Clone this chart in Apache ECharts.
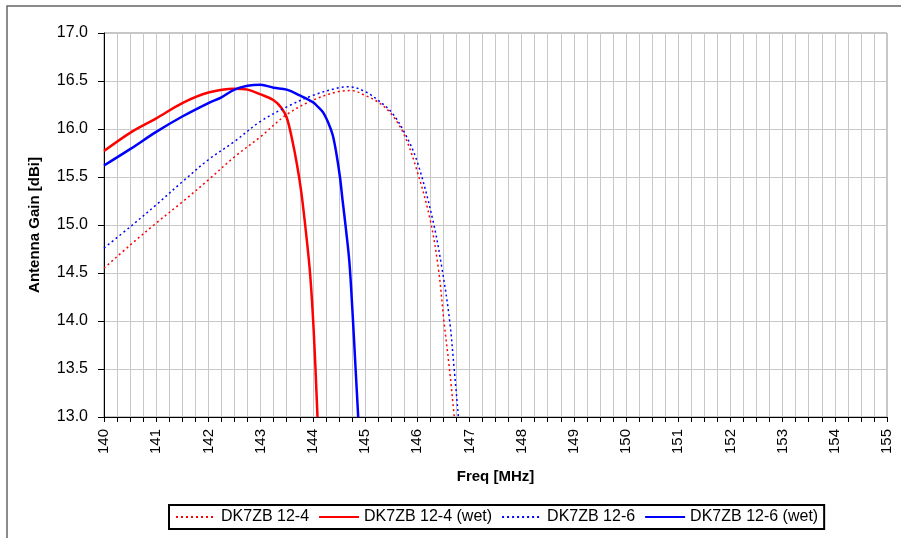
<!DOCTYPE html>
<html>
<head>
<meta charset="utf-8">
<script src="https://cdn.jsdelivr.net/npm/echarts@6/dist/echarts.min.js"></script>
<style>
  html, body { margin: 0; padding: 0; background: #ffffff; }
  #chart { width: 901px; height: 538px; }
</style>
</head>
<body>
<div id="chart"></div>
<script>
// Gain curves of the DK7ZB 2 m Yagis, dry and wet (frequency in MHz, gain in dBi)
const dry124Freq = [140.0, 140.5, 141.0, 141.5, 142.0, 142.5, 143.0, 143.5, 144.0, 144.5, 144.75, 145.0, 145.25, 145.5, 145.75, 146.0, 146.25, 146.41, 146.51, 146.62, 146.71];
const dry124Gain = [14.55, 14.79, 15.02, 15.24, 15.47, 15.71, 15.92, 16.15, 16.30, 16.39, 16.40, 16.35, 16.28, 16.16, 15.94, 15.56, 15.05, 14.53, 14.01, 13.49, 13.0];

const wet124Freq = [140.0, 140.5, 141.0, 141.5, 142.0, 142.5, 142.75, 143.0, 143.25, 143.4, 143.5, 143.6, 143.7, 143.78, 143.87, 143.95, 144.02, 144.09];
const wet124Gain = [15.77, 15.96, 16.11, 16.27, 16.38, 16.42, 16.41, 16.36, 16.30, 16.22, 16.12, 15.90, 15.62, 15.34, 14.92, 14.48, 13.87, 13.0];

const dry126Freq = [140.0, 140.5, 141.0, 141.5, 142.0, 142.5, 143.0, 143.5, 144.0, 144.5, 144.7, 145.0, 145.25, 145.5, 145.75, 146.0, 146.3, 146.48, 146.62, 146.71, 146.79];
const dry126Gain = [14.76, 14.98, 15.21, 15.45, 15.68, 15.87, 16.08, 16.23, 16.35, 16.43, 16.44, 16.39, 16.30, 16.18, 15.97, 15.66, 15.05, 14.53, 14.01, 13.49, 13.0];

const wet126Freq = [140.0, 140.5, 141.0, 141.5, 142.0, 142.25, 142.5, 142.75, 143.0, 143.25, 143.5, 143.75, 144.0, 144.1, 144.2, 144.3, 144.38, 144.45, 144.52, 144.57, 144.63, 144.7, 144.76, 144.82, 144.87];
const wet126Gain = [15.62, 15.79, 15.97, 16.13, 16.27, 16.33, 16.41, 16.45, 16.46, 16.43, 16.41, 16.35, 16.28, 16.23, 16.17, 16.06, 15.94, 15.75, 15.50, 15.26, 14.98, 14.62, 14.10, 13.50, 13.0];

const seriesNames = ['DK7ZB 12-4', 'DK7ZB 12-4 (wet)', 'DK7ZB 12-6', 'DK7ZB 12-6 (wet)'];

const pairs = (xs, ys) => xs.map((x, i) => [x, ys[i]]);

const dotted = [2, 3];

function curve(name, data, color, wet) {
  return {
    name: name,
    type: 'line',
    data: data,
    symbol: 'none',
    smooth: 0.35,
    lineStyle: wet
      ? { color: color, width: 2.5, type: 'solid' }
      : { color: color, width: 1.5, type: dotted },
    itemStyle: { color: color },
    emphasis: { disabled: true }
  };
}

const chart = echarts.init(document.getElementById('chart'), null, { renderer: 'canvas' });

chart.setOption({
  backgroundColor: '#ffffff',
  animation: false,
  textStyle: { fontFamily: 'Liberation Sans, Arial, sans-serif', color: '#000' },
  graphic: [
    {
      type: 'rect',
      shape: { x: 7, y: 6, width: 1000, height: 1000 },
      style: { fill: 'none', stroke: '#666666', lineWidth: 1.5 },
      silent: true
    }
  ],
  grid: {
    left: 104, top: 33, right: 14, bottom: 121,
    show: true, borderColor: '#8c8c8c', borderWidth: 1, backgroundColor: '#ffffff'
  },
  legend: {
    data: seriesNames,
    left: 169, top: 505,
    itemWidth: 40, itemHeight: 12, itemGap: 9,
    padding: [4, 6, 4, 6],
    borderColor: '#000', borderWidth: 2,
    itemStyle: { opacity: 0 },
    textStyle: { fontSize: 16, color: '#000' }
  },
  xAxis: {
    type: 'value',
    min: 140, max: 155, interval: 0.25,
    name: 'Freq [MHz]',
    nameLocation: 'middle', nameGap: 52,
    nameTextStyle: { fontSize: 15, fontWeight: 'bold', color: '#000' },
    axisLine: { show: true, onZero: false, lineStyle: { color: '#000', width: 1 } },
    axisTick: { show: true, length: 5, lineStyle: { color: '#000' } },
    axisLabel: {
      rotate: 90, fontSize: 15, color: '#000', margin: 12,
      formatter: v => (Math.abs(v - Math.round(v)) < 1e-9 ? String(Math.round(v)) : '')
    },
    splitLine: { show: true, lineStyle: { color: '#c8c8c8', width: 1 } }
  },
  yAxis: {
    type: 'value',
    min: 13, max: 17, interval: 0.5,
    name: 'Antenna Gain [dBi]',
    nameLocation: 'middle', nameGap: 62, nameRotate: 90,
    nameTextStyle: { fontSize: 15, fontWeight: 'bold', color: '#000' },
    axisLine: { show: true, lineStyle: { color: '#000', width: 1 } },
    axisTick: { show: true, length: 6, lineStyle: { color: '#000' } },
    axisLabel: { fontSize: 16, color: '#000', margin: 16, formatter: v => v.toFixed(1) },
    splitLine: { show: true, lineStyle: { color: '#c8c8c8', width: 1 } }
  },
  series: [
    curve(seriesNames[0], pairs(dry124Freq, dry124Gain), '#ff0000', false),
    curve(seriesNames[1], pairs(wet124Freq, wet124Gain), '#ff0000', true),
    curve(seriesNames[2], pairs(dry126Freq, dry126Gain), '#0000ff', false),
    curve(seriesNames[3], pairs(wet126Freq, wet126Gain), '#0000ff', true)
  ]
});
</script>
</body>
</html>
